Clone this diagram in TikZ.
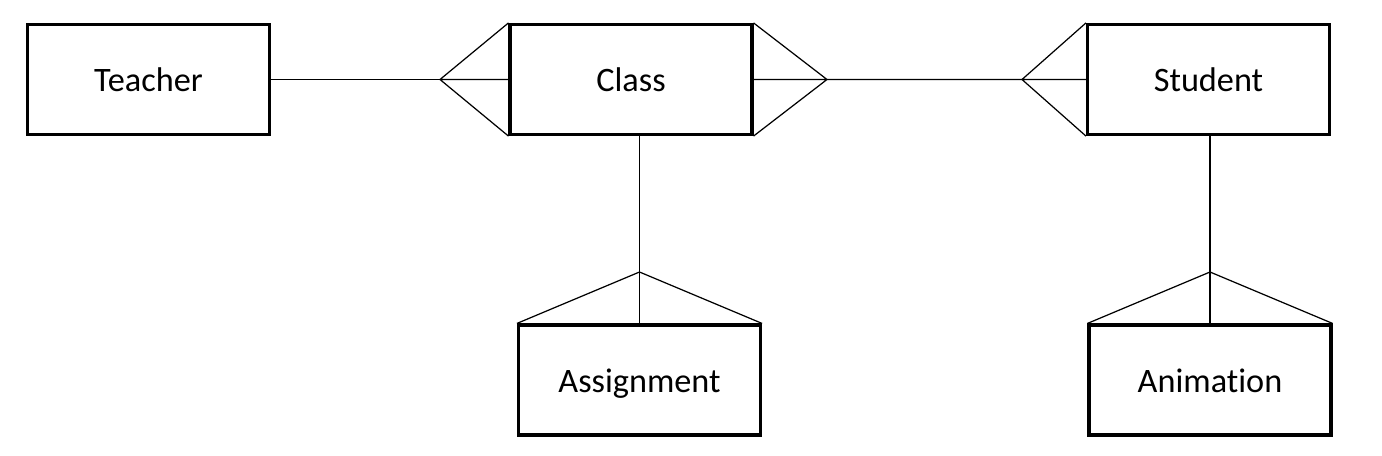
\documentclass[tikz,border=0pt]{standalone}
\usepackage{fontspec}
\setmainfont{Carlito}[Ligatures=NoCommon]
\usetikzlibrary{calc}
\begin{document}
\begin{tikzpicture}[x=0.02cm,y=-0.02cm,
    entity/.style={draw,line width=1.8pt,minimum width=4.84cm,minimum height=2.2cm,inner sep=0pt,text height=0.5cm,text depth=0pt,font=\fontsize{19.5}{23}\selectfont},
    rel/.style={line width=0.7pt}]
    \useasboundingbox (0,0) rectangle (1382,456);
    \node[entity] (T) at (148.5,79.5) {Teacher};
    \node[entity] (C) at (631,79.5) {Class};
    \node[entity] (S) at (1208.5,79.5) {Student};
    \node[entity] (A) at (639.5,380) {Assignment};
    \node[entity] (N) at (1210,380) {Animation};
    \coordinate (TC) at (440,79.5);
    \coordinate (CS) at (827,79.5);
    \coordinate (SC) at (1022,79.5);
    \coordinate (CA) at (639.5,272);
    \coordinate (SN) at (1210,272);
    \draw[rel] (T.east) -- (TC);
    \draw[rel] (C.north west) -- (TC) -- (C.south west) (TC) -- (C.west);
    \draw[rel] (C.north east) -- (CS) -- (C.south east) (C.east) -- (CS) -- (SC);
    \draw[rel] (S.north west) -- (SC) -- (S.south west) (SC) -- (S.west);
    \draw[rel] (A.north) -- (A.north |- C.south);
    \draw[rel] (A.north west) -- (CA) -- (A.north east);
    \draw[rel] (N.north) -- (N.north |- S.south);
    \draw[rel] (N.north west) -- (SN) -- (N.north east);
\end{tikzpicture}
\end{document}
